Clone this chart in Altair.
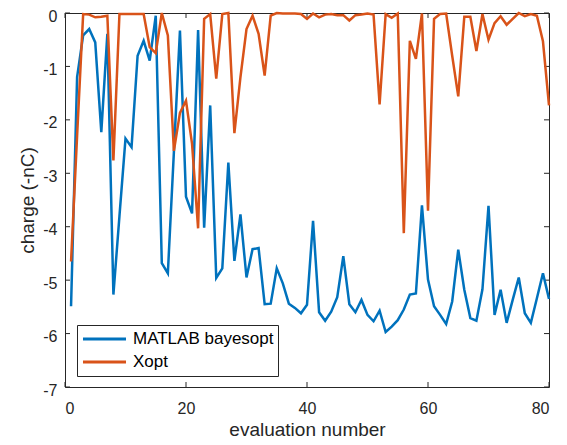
import altair as alt
import pandas as pd

evaluation = list(range(1, 81))
bayesopt = [-5.49, -1.20, -0.42, -0.30, -0.55, -2.23, -0.39, -5.27, -3.80, -2.35,
            -2.51, -0.80, -0.52, -0.89, -0.05, -4.68, -4.87, -2.60, -0.33, -3.44,
            -3.75, -0.32, -4.02, -1.73, -4.96, -4.78, -2.80, -4.64, -3.77, -4.95,
            -4.42, -4.40, -5.45, -5.44, -4.78, -5.06, -5.44, -5.52, -5.62, -5.46,
            -3.89, -5.60, -5.76, -5.59, -5.32, -4.55, -5.45, -5.60, -5.37, -5.65,
            -5.77, -5.57, -5.97, -5.87, -5.75, -5.55, -5.27, -5.25, -3.60, -4.99,
            -5.49, -5.65, -5.82, -5.40, -4.43, -5.18, -5.71, -5.76, -5.17, -3.61,
            -5.65, -5.18, -5.80, -5.37, -4.95, -5.62, -5.80, -5.34, -4.87, -5.35]
xopt = [-4.65, -2.30, -0.02, -0.03, -0.08, -0.07, -0.05, -2.76, -0.02, -0.02,
        -0.02, -0.02, -0.02, -0.64, -0.75, 0.0, -0.42, -2.58, -1.87, -1.64,
        -2.45, -4.03, -0.11, -0.02, -1.23, -0.02, 0.0, -2.25, -1.20, -0.30,
        -0.05, -0.39, -1.17, -0.05, 0.0, -0.01, -0.01, -0.01, -0.02, -0.11,
        -0.01, -0.08, -0.03, -0.02, -0.04, -0.04, -0.14, -0.04, -0.03, -0.01,
        -0.03, -1.71, -0.02, -0.09, -0.01, -4.12, -0.52, -0.86, -0.01, -3.70,
        -0.11, -0.02, -0.01, -0.80, -1.56, -0.07, -0.07, -0.71, -0.02, -0.50,
        -0.19, -0.06, -0.22, -0.11, 0.0, -0.06, -0.02, -0.05, -0.53, -1.73]
series_names = ["MATLAB bayesopt", "Xopt"]
series_colors = ["#0072BD", "#D95319"]
x_ticks = [0, 20, 40, 60, 80]
y_ticks = [0, -1, -2, -3, -4, -5, -6, -7]

W, H = 484, 374
FONT = "Liberation Sans"
AX = "#262626"

df = pd.DataFrame({
    "evaluation": evaluation * 2,
    "charge": bayesopt + xopt,
    "series": [series_names[0]] * 80 + [series_names[1]] * 80,
})

xscale = alt.Scale(domain=[0, 80], nice=False, zero=False)
yscale = alt.Scale(domain=[-7, 0], nice=False, zero=False)

lines = alt.Chart(df).mark_line(strokeWidth=2.5, clip=False).encode(
    x=alt.X("evaluation:Q", scale=xscale,
            axis=alt.Axis(values=x_ticks, labelExpr="'' + datum.value",
                          title="evaluation number",
                          grid=False, domain=False, tickSize=0, labelPadding=13,
                          titlePadding=4, labelFontSize=16, titleFontSize=19,
                          labelColor=AX, titleColor=AX, labelFont=FONT,
                          titleFont=FONT, titleFontWeight="normal")),
    y=alt.Y("charge:Q", scale=yscale,
            axis=alt.Axis(values=y_ticks, labelExpr="'' + datum.value",
                          title="charge (-nC)", labelOffset=3,
                          grid=False, domain=False, tickSize=0, labelPadding=8,
                          titlePadding=5, labelFontSize=16, titleFontSize=19,
                          labelColor=AX, titleColor=AX, labelFont=FONT,
                          titleFont=FONT, titleFontWeight="normal")),
    color=alt.Color("series:N",
                    scale=alt.Scale(domain=series_names, range=series_colors),
                    legend=alt.Legend(title=None, orient="none", legendX=12,
                                      legendY=312, symbolType="stroke",
                                      symbolSize=1850, symbolStrokeWidth=3,
                                      clipHeight=20, rowPadding=3, padding=4,
                                      labelOffset=5, labelFontSize=17,
                                      labelFont=FONT, labelColor="#000000",
                                      strokeColor=AX, fillColor="white")),
)

xt = pd.DataFrame({"t": x_ticks})
yt = pd.DataFrame({"t": y_ticks})
tick_style = dict(color=AX, strokeWidth=1)
xb = alt.Chart(xt).mark_rule(**tick_style).encode(
    x=alt.X("t:Q", scale=xscale), y=alt.value(H), y2=alt.value(H - 5))
xtp = alt.Chart(xt).mark_rule(**tick_style).encode(
    x=alt.X("t:Q", scale=xscale), y=alt.value(0), y2=alt.value(5))
yl = alt.Chart(yt).mark_rule(**tick_style).encode(
    y=alt.Y("t:Q", scale=yscale), x=alt.value(0), x2=alt.value(5))
yr = alt.Chart(yt).mark_rule(**tick_style).encode(
    y=alt.Y("t:Q", scale=yscale), x=alt.value(W), x2=alt.value(W - 5))

chart = alt.layer(xb, xtp, yl, yr, lines).properties(
    width=W, height=H,
    autosize=alt.AutoSizeParams(type="none"),
    padding={"left": 57, "top": 5, "right": 10, "bottom": 56},
    background="white",
).configure_view(stroke=AX, strokeWidth=1)

chart.save("out.html", embed_options={"renderer": "svg", "actions": False})
